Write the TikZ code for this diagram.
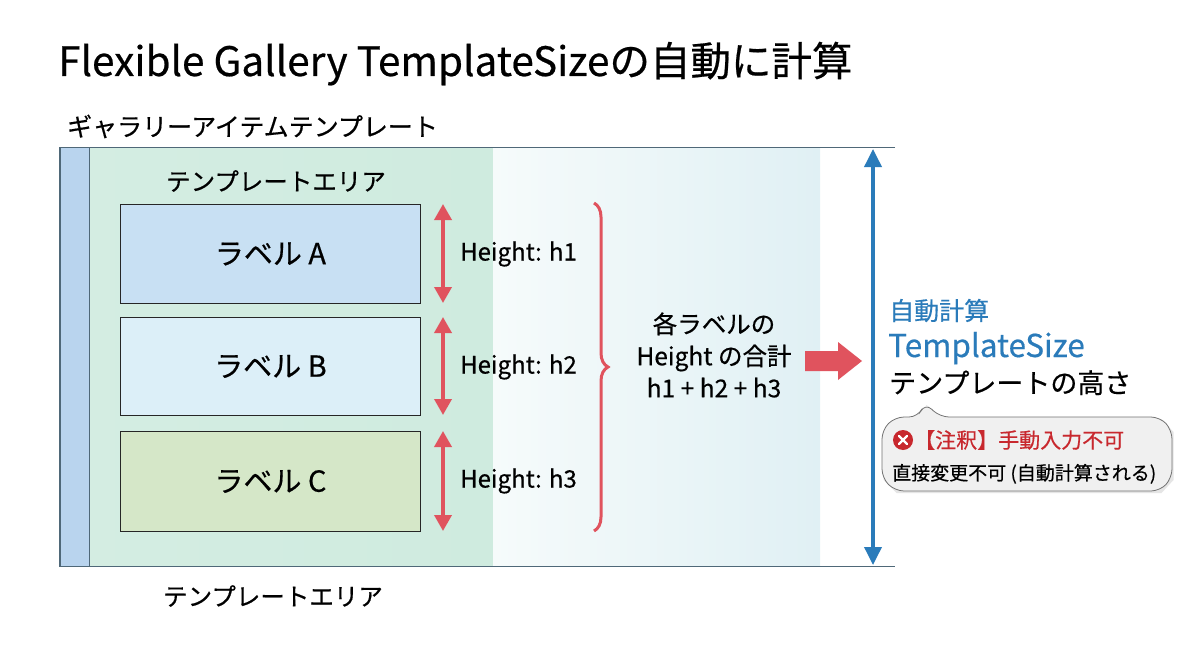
\documentclass[tikz,border=0pt]{standalone}
\usepackage{fontspec}
\setmainfont[FakeBold=0.5]{Noto Sans CJK JP}
\usetikzlibrary{arrows.meta,decorations.pathreplacing,calc}
\definecolor{stripblue}{HTML}{B9D4EE}
\definecolor{areagreen}{HTML}{CFEBDF}
\definecolor{lblA}{HTML}{C8E0F3}
\definecolor{lblB}{HTML}{DCEFF8}
\definecolor{lblC}{HTML}{D5E7C8}
\definecolor{redarr}{HTML}{E0535E}
\definecolor{bluearr}{HTML}{2A7BBA}
\definecolor{frame}{HTML}{4F6878}
\definecolor{notered}{HTML}{C8282E}
\definecolor{callfill}{HTML}{F0F0F0}
\tikzset{
  lbl/.style={draw=black!85, line width=0.9pt, minimum width=300pt, minimum height=99pt, anchor=north west, inner sep=0pt, font=\fontsize{29}{32}\selectfont},
  hgt/.style={anchor=west, inner sep=0pt, font=\fontsize{24}{28}\selectfont},
  redda/.style={draw=redarr, line width=3.6pt, {Triangle[length=16pt,width=17pt]}-{Triangle[length=16pt,width=17pt]}},
  txt/.style={inner sep=0pt}
}
\newcommand{\calloutpath}{(882,430) -- (882,478) -- (895,491) -- (1160,491) -- (1172,478) -- (1172,430) -- (1160,417) -- (940,417) -- (925,403) -- (918,417) -- (895,417) -- cycle}
\begin{document}
\begin{tikzpicture}[x=1pt,y=-1pt]
\useasboundingbox (0,0) rectangle (1200,669);
\fill[white] (0,0) rectangle (1200,669);
% title
\node[txt, anchor=base west, font=\fontsize{40.5}{44}\selectfont] (title) at (58,76) {Flexible Gallery TemplateSizeの自動に計算};
\node[txt, anchor=base west, font=\fontsize{25}{28}\selectfont] (gal) at (67,136) {ギャラリーアイテムテンプレート};
% regions
\shade[left color=areagreen!90, right color=areagreen] (89,148) rectangle (493,566);
\shade[left color={rgb,255:red,246;green,251;blue,251}, right color={rgb,255:red,224;green,240;blue,244}] (493,148) rectangle (820,566);
\fill[stripblue] (60,148) rectangle (89,566);
\draw[frame, line width=1.1pt] (895,147.5) -- (60,147.5) -- (60,566.5) -- (895,566.5);
\draw[frame, line width=1pt] (89,148) -- (89,566);
\node[txt, font=\fontsize{24.5}{28}\selectfont] (areaTop) at (276,181) {テンプレートエリア};
\node[txt, font=\fontsize{24.5}{28}\selectfont] (areaBot) at (273,596) {テンプレートエリア};
% labels
\node[lbl, fill=lblA] (la) at (120,204) {ラベル A};
\node[lbl, fill=lblB, minimum height=98pt] (lb) at (120,317) {ラベル B};
\node[lbl, fill=lblC, minimum height=100pt] (lc) at (120,431) {ラベル C};
% height arrows
\coordinate (a1) at (443,204); \coordinate (a2) at (443,303);
\coordinate (b1) at (443,317); \coordinate (b2) at (443,415);
\coordinate (c1) at (443,431); \coordinate (c2) at (443,531);
\draw[redda] (a1) -- (a2);
\draw[redda] (b1) -- (b2);
\draw[redda] (c1) -- (c2);
\node[hgt] (ha) at (460,254) {Height: h1};
\node[hgt] (hb) at (460,367) {Height: h2};
\node[hgt] (hc) at (460,481) {Height: h3};
% brace
\coordinate (br1) at (594,203); \coordinate (br2) at (594,531);
\draw[redarr, line width=3pt, decorate, decoration={brace, amplitude=14pt, aspect=0.5}] (br1) -- (br2);
% sum text
\node[txt, align=center, font=\fontsize{24.5}{32}\selectfont] (sum) at (714,355) {各ラベルの\\Height の合計\\h1 + h2 + h3};
% thick arrow
\coordinate (ta1) at (805,361); \coordinate (ta2) at (862,361);
\fill[redarr] (805,351) -- (838,351) -- (838,342) -- (862,361) -- (838,380) -- (838,371) -- (805,371) -- cycle;
% blue dimension arrow
\coordinate (top) at (873,149); \coordinate (bot) at (873,565);
\draw[bluearr, line width=3.6pt, {Triangle[length=18pt,width=17pt]}-{Triangle[length=18pt,width=17pt]}] (top) -- (bot);
% right texts
\node[txt, anchor=base west, text=bluearr, font=\fontsize{25}{28}\selectfont] (auto) at (889,320) {自動計算};
\node[txt, anchor=base west, text=bluearr, font=\fontsize{31.5}{34}\selectfont] (ts) at (888,357) {TemplateSize};
\node[txt, anchor=base west, font=\fontsize{27}{30}\selectfont] (tsh) at (889,393) {テンプレートの高さ};
% callout
\fill[black!25, opacity=0.4, xshift=1.5pt, yshift=-2pt] \calloutpath;
\draw[black!55, line width=0.8pt, fill=callfill, rounded corners=9pt] \calloutpath;
\fill[notered] (903,440) circle (10pt);
\draw[white, line width=2.4pt, line cap=round] (899,436) -- (907,444) (907,436) -- (899,444);
\node[txt, anchor=base west, text=notered, font=\fontsize{21}{24}\selectfont] (note1) at (914,448) {【注釈】手動入力不可};
\node[txt, anchor=base west, font=\fontsize{19}{22}\selectfont] (note2) at (892,480) {直接変更不可 (自動計算される)};
\end{tikzpicture}
\end{document}
